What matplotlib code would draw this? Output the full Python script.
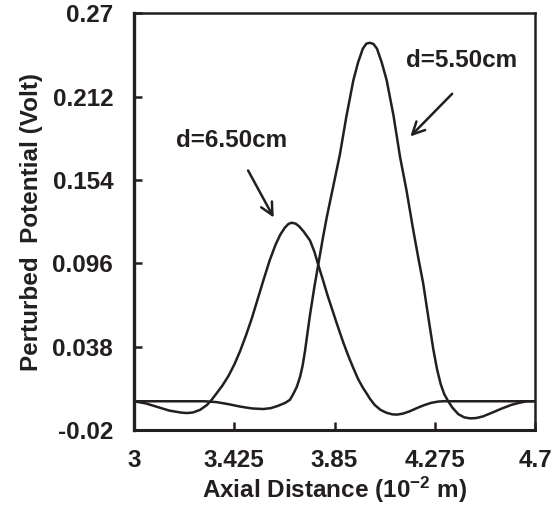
import numpy as np
import matplotlib
matplotlib.use('Agg')
import matplotlib.pyplot as plt
from matplotlib.ticker import FixedLocator

plt.rcParams['font.family'] = ['Liberation Sans', 'DejaVu Sans']
plt.rcParams['font.weight'] = 'bold'
plt.rcParams['mathtext.fontset'] = 'custom'
plt.rcParams['mathtext.bf'] = 'Liberation Sans:bold'
plt.rcParams['mathtext.rm'] = 'Liberation Sans:bold'
plt.rcParams['mathtext.default'] = 'bf'

# d = 6.50 cm
x_650 = [3.00, 3.05, 3.10, 3.15, 3.20, 3.225, 3.25, 3.28, 3.31, 3.33, 3.35,
         3.375, 3.40, 3.425, 3.45, 3.475, 3.50, 3.525, 3.55, 3.575, 3.60,
         3.62, 3.64, 3.655, 3.668, 3.685, 3.70, 3.72, 3.746, 3.765, 3.781,
         3.80, 3.82, 3.84, 3.86, 3.887, 3.91, 3.93, 3.95, 3.97, 3.986, 4.00,
         4.02, 4.045, 4.07, 4.095, 4.115, 4.14, 4.17, 4.20, 4.23, 4.26, 4.29,
         4.31, 4.70]
y_650 = [0.000, -0.0015, -0.004, -0.0065, -0.0079, -0.0082, -0.0078, -0.006,
         -0.0025, 0.0012, 0.0055, 0.011, 0.0175, 0.0255, 0.0350, 0.0460,
         0.0580, 0.0715, 0.0850, 0.0980, 0.1090, 0.1160, 0.1210, 0.1235,
         0.1243, 0.1237, 0.1218, 0.118, 0.112, 0.104, 0.095, 0.085, 0.074,
         0.064, 0.054, 0.041, 0.031, 0.023, 0.0155, 0.0095, 0.0055, 0.0018,
         -0.0025, -0.0060, -0.0080, -0.0091, -0.0093, -0.0086, -0.0069,
         -0.0047, -0.0027, -0.0011, -0.0002, 0.000, 0.000]

# d = 5.50 cm
x_550 = [3.00, 3.30, 3.35, 3.40, 3.45, 3.50, 3.547, 3.58, 3.61, 3.64, 3.661,
         3.675, 3.69, 3.704, 3.715, 3.725, 3.735, 3.746, 3.765, 3.781, 3.80,
         3.817, 3.845, 3.873, 3.90, 3.93, 3.95, 3.97, 3.985, 4.00, 4.015, 4.03,
         4.05, 4.071, 4.10, 4.128, 4.155, 4.184, 4.205, 4.226, 4.25, 4.269,
         4.285, 4.30, 4.315, 4.332, 4.35, 4.375, 4.40, 4.424, 4.45, 4.48, 4.52,
         4.56, 4.60, 4.635, 4.665, 4.70]
y_550 = [0.000, 0.000, -0.0006, -0.002, -0.0037, -0.0050, -0.0054, -0.0048,
         -0.0032, -0.0012, 0.001, 0.005, 0.010, 0.017, 0.025, 0.035, 0.047,
         0.060, 0.080, 0.095, 0.113, 0.128, 0.150, 0.172, 0.198, 0.2236, 0.236,
         0.2455, 0.2490, 0.2496, 0.2488, 0.2455, 0.236, 0.2236, 0.199, 0.170,
         0.147, 0.119, 0.100, 0.082, 0.056, 0.036, 0.022, 0.012, 0.005, 0.000,
         -0.0045, -0.0090, -0.0112, -0.0119, -0.0117, -0.0105, -0.0078, -0.005,
         -0.0025, -0.001, 0.000, 0.000]

x_ticks = [3, 3.425, 3.85, 4.275, 4.7]
x_ticklabels = ['3', '3.425', '3.85', '4.275', '4.7']
y_ticks = [-0.02, 0.038, 0.096, 0.154, 0.212, 0.27]
y_ticklabels = ['-0.02', '0.038', '0.096', '0.154', '0.212', '0.27']

ink = '#231f20'
fs = 17.5

fig = plt.figure(figsize=(5.53, 5.19), dpi=100)
ax = fig.add_axes([0.2423, 0.1715, 0.7252, 0.8025])

ax.plot(x_650, y_650, color=ink, linewidth=1.8, solid_joinstyle='round')
ax.plot(x_550, y_550, color=ink, linewidth=1.8, solid_joinstyle='round')

ax.set_xlim(3, 4.7)
ax.set_ylim(-0.02, 0.27)
ax.xaxis.set_major_locator(FixedLocator(x_ticks))
ax.yaxis.set_major_locator(FixedLocator(y_ticks))
ax.set_xticklabels(x_ticklabels, fontweight='bold')
ax.set_yticklabels(y_ticklabels, fontweight='bold')
ax.tick_params(direction='in', length=6, width=1.8, colors=ink,
               labelsize=fs, pad=15, top=False, right=False)
ax.tick_params(axis='x', pad=14)

for side, lw in [('left', 2.4), ('bottom', 2.2), ('top', 1.8), ('right', 1.8)]:
    ax.spines[side].set_linewidth(lw)
    ax.spines[side].set_color(ink)

ax.set_xlabel(r'Axial Distance (10$^{-2}$ m)', fontsize=fs,
              fontweight='bold', color=ink, labelpad=2)
ax.set_ylabel('Perturbed  Potential (Volt)', fontsize=fs,
              fontweight='bold', color=ink, labelpad=7)

ax.text(3.413, 0.1818, 'd=6.50cm', fontsize=fs, fontweight='bold',
        color=ink, ha='center', va='center')
ax.annotate('', xy=(3.598, 0.1262), xytext=(3.478, 0.1624),
            arrowprops=dict(arrowstyle='->', color=ink, lw=1.8,
                            mutation_scale=22))
ax.text(4.39, 0.237, 'd=5.50cm', fontsize=fs, fontweight='bold',
        color=ink, ha='center', va='center')
ax.annotate('', xy=(4.163, 0.183), xytext=(4.357, 0.2155),
            arrowprops=dict(arrowstyle='->', color=ink, lw=1.8,
                            mutation_scale=22))

fig.savefig('out.png', dpi=100)
